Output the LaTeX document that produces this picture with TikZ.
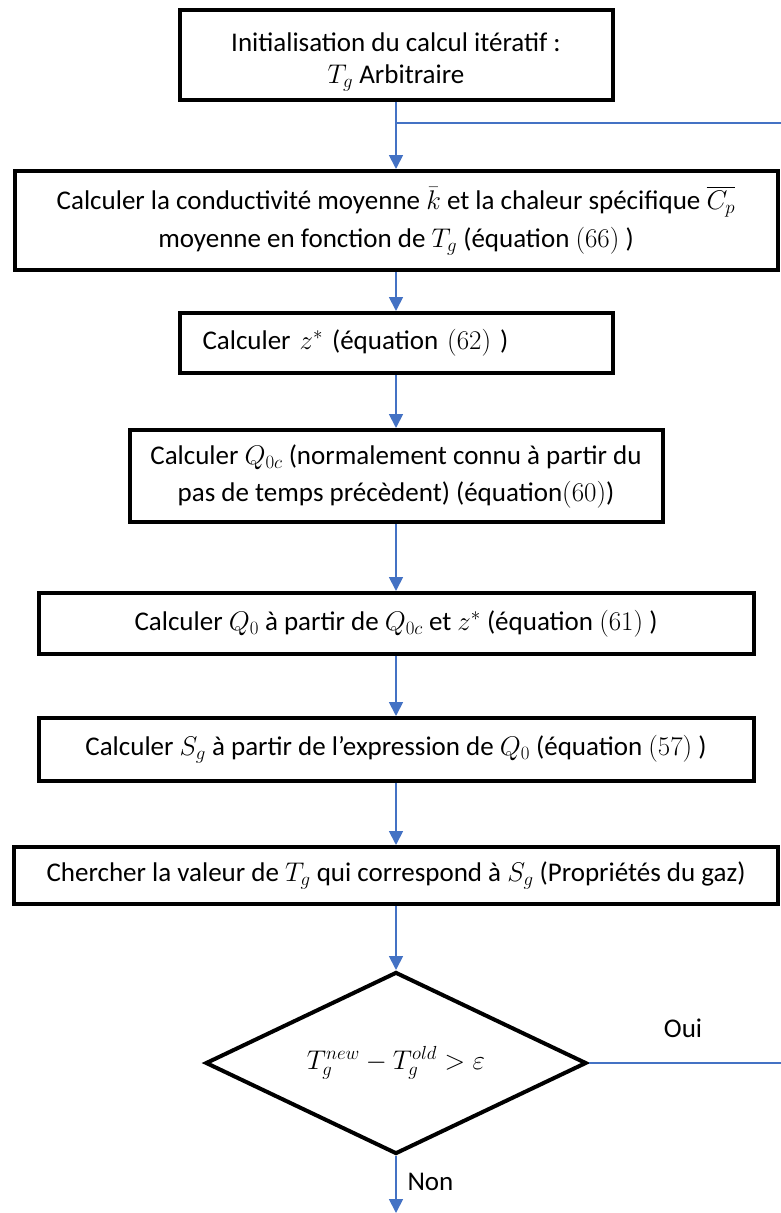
\RequirePackage{fix-cm}
\documentclass[tikz,border=0pt]{standalone}
\usepackage{amsmath}
\usepackage{fontspec}
\setmainfont{Carlito}
\usepackage{tikz}
\usetikzlibrary{shapes.geometric}
\usetikzlibrary{arrows.meta}
\definecolor{bleu}{HTML}{4472C4}

\begin{document}
\begin{tikzpicture}[x=1pt, y=-1pt,
    every node/.style={font=\fontsize{27}{32}\selectfont},
    etape/.style={draw, line width=4pt, align=center, inner sep=0pt},
    test/.style={draw, diamond, line width=4pt, aspect=2, inner sep=0pt},
    fleche/.style={draw=bleu, line width=1.8pt, -{Triangle[length=14pt,width=14pt]}},
    trait/.style={draw=bleu, line width=1.8pt}]
    \useasboundingbox (0,0) rectangle (781,1213);

    \node[etape, minimum width=433pt, minimum height=90pt] (init) at (396,54.5) {\rule{0pt}{34pt}Initialisation du calcul itératif :\\ $T_g$ Arbitraire};   %depart
    \node[etape, minimum width=763pt, minimum height=99pt] (moy) at (396,220.5) {Calculer la conductivité moyenne $\bar{k}$ et la chaleur spécifique $\overline{C_p}$\\[6pt] moyenne en fonction de $T_g$ (équation $(66)$ )};
    \node[etape, text width=387pt, inner xsep=23pt, minimum height=60pt, align=left] (zstar) at (396,343) {Calculer $z^*$ (équation $(62)$ )};
    \node[etape, minimum width=533pt, minimum height=92pt] (qoc) at (396,476) {Calculer $Q_{0c}$ (normalement connu à partir du\\[5pt] pas de temps précèdent) (équation$(60)$)};
    \node[etape, minimum width=715pt, minimum height=61pt] (qzero) at (396,623.5) {Calculer $Q_0$ à partir de $Q_{0c}$ et $z^*$ (équation $(61)$ )};
    \node[etape, minimum width=715pt, minimum height=63pt] (sg) at (396,749.5) {Calculer $S_g$ à partir de l’expression de $Q_0$ (équation $(57)$ )};
    \node[etape, minimum width=764pt, minimum height=57pt] (tg) at (396,875.5) {Chercher la valeur de $T_g$ qui correspond à $S_g$ (Propriétés du gaz)};
    \node[test, minimum width=381pt, minimum height=182pt] (conv) at (396,1063) {$T_g^{new} - T_g^{old} > \varepsilon$};   %critere

    \draw[fleche] (init) -- (moy);
    \draw[fleche] (moy) -- (zstar);
    \draw[fleche] (zstar) -- (qoc);
    \draw[fleche] (qoc) -- (qzero);
    \draw[fleche] (qzero) -- (sg);
    \draw[fleche] (sg) -- (tg);
    \draw[fleche] (tg) -- (conv);

    % boucle : retour vers le calcul de k et Cp
    \coordinate (retour) at (781,123);
    \draw[trait] (retour) -- (retour -| init.south);
    \draw[trait] (conv.east) -- (conv.east -| retour);
    \node (oui) at (683,1028) {Oui};

    % sortie
    \coordinate (sortie) at (396,1213);
    \draw[fleche] (conv) -- (sortie);
    \node[anchor=west] (non) at (404,1182) {Non};
\end{tikzpicture}
\end{document}
